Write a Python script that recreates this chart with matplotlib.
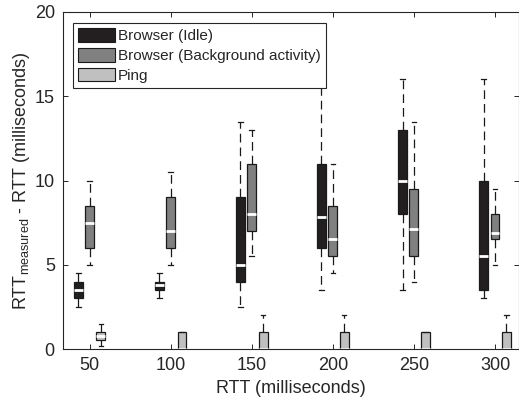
import matplotlib
matplotlib.use("Agg")
import matplotlib.pyplot as plt
from matplotlib.patches import Patch

plt.rcParams['font.family'] = ['Liberation Sans', 'DejaVu Sans']
plt.rcParams['mathtext.fontset'] = 'custom'
plt.rcParams['mathtext.rm'] = 'Liberation Sans'
plt.rcParams['mathtext.it'] = 'Liberation Sans'

rtt = [50, 100, 150, 200, 250, 300]
series = ['Browser (Idle)', 'Browser (Background activity)', 'Ping']

# five-number summaries: whisker low, q1, median, q3, whisker high
idle_lo = [2.5, 3.0, 2.5, 3.5, 3.5, 3.0]
idle_q1 = [3.0, 3.5, 4.0, 6.0, 8.0, 3.5]
idle_med = [3.5, 3.8, 5.0, 7.85, 10.0, 5.5]
idle_q3 = [4.0, 4.0, 9.0, 11.0, 13.0, 10.0]
idle_hi = [4.5, 4.5, 13.5, 18.0, 16.0, 16.0]

bg_lo = [5.0, 5.0, 5.5, 4.5, 4.0, 5.0]
bg_q1 = [6.0, 6.0, 7.0, 5.5, 5.5, 6.5]
bg_med = [7.5, 7.0, 8.0, 6.5, 7.1, 6.9]
bg_q3 = [8.5, 9.0, 11.0, 8.5, 9.5, 8.0]
bg_hi = [10.0, 10.5, 13.0, 11.0, 13.5, 9.5]

ping_lo = [0.2, 0.0, 0.0, 0.0, 0.0, 0.0]
ping_q1 = [0.55, 0.0, 0.0, 0.0, 0.0, 0.0]
ping_med = [0.8, 0.0, 0.0, 0.0, 0.0, 0.0]
ping_q3 = [1.0, 1.0, 1.0, 1.0, 1.0, 1.0]
ping_hi = [1.5, 1.0, 2.0, 2.0, 1.0, 2.0]

colors = ['#231f20', '#808080', '#c0c0c0']
offsets = [-7, 0, 7]
text_c = '#262626'

fig = plt.figure(figsize=(5.19, 4.03), dpi=100)
ax = fig.add_axes([62.5 / 519, 54 / 403, 456 / 519, 337 / 403])

groups = [
    (idle_lo, idle_q1, idle_med, idle_q3, idle_hi),
    (bg_lo, bg_q1, bg_med, bg_q3, bg_hi),
    (ping_lo, ping_q1, ping_med, ping_q3, ping_hi),
]

for (lo, q1, med, q3, hi), col, off in zip(groups, colors, offsets):
    stats = []
    for i in range(len(rtt)):
        stats.append(dict(whislo=lo[i], q1=q1[i], med=med[i], q3=q3[i],
                          whishi=hi[i], fliers=[]))
    ax.bxp(stats, positions=[r + off for r in rtt], widths=5.5,
           capwidths=2.8, patch_artist=True, manage_ticks=False,
           boxprops=dict(facecolor=col, edgecolor='#1a1a1a', linewidth=0.9),
           medianprops=dict(color='white', linewidth=2.0, solid_capstyle='butt'),
           whiskerprops=dict(color='#1a1a1a', linewidth=0.9,
                             linestyle=(0, (7, 4))),
           capprops=dict(color='#1a1a1a', linewidth=0.9))

ax.set_xlim(33.3, 314.5)
ax.set_ylim(0, 20)
ax.set_xticks(rtt)
ax.set_yticks([0, 5, 10, 15, 20])
ax.tick_params(direction='in', top=True, right=True, length=3.5,
               width=0.7, labelsize=13, colors=text_c)
ax.tick_params(axis='y', pad=5.5)
ax.tick_params(axis='x', pad=6)
for s in ax.spines.values():
    s.set_color(text_c)
    s.set_linewidth(0.8)

ax.set_xlabel('RTT (milliseconds)', fontsize=13, color=text_c, labelpad=4)
ax.set_ylabel(r'RTT$_{\mathrm{measured}}$ - RTT (milliseconds)',
              fontsize=13, color=text_c, labelpad=2)

handles = [Patch(facecolor=c, edgecolor='#1a1a1a', linewidth=0.8) for c in colors]
leg = ax.legend(handles, series, loc='upper left',
                bbox_to_anchor=(10.5 / 456, 1 - 11 / 337), borderaxespad=0,
                fontsize=11, handlelength=2.4, handleheight=1.0,
                handletextpad=0.2, labelspacing=0.3, borderpad=0.35,
                fancybox=False, framealpha=1, edgecolor=text_c)
leg.get_frame().set_linewidth(0.8)
for t in leg.get_texts():
    t.set_color(text_c)

fig.savefig('out.png', dpi=100)
